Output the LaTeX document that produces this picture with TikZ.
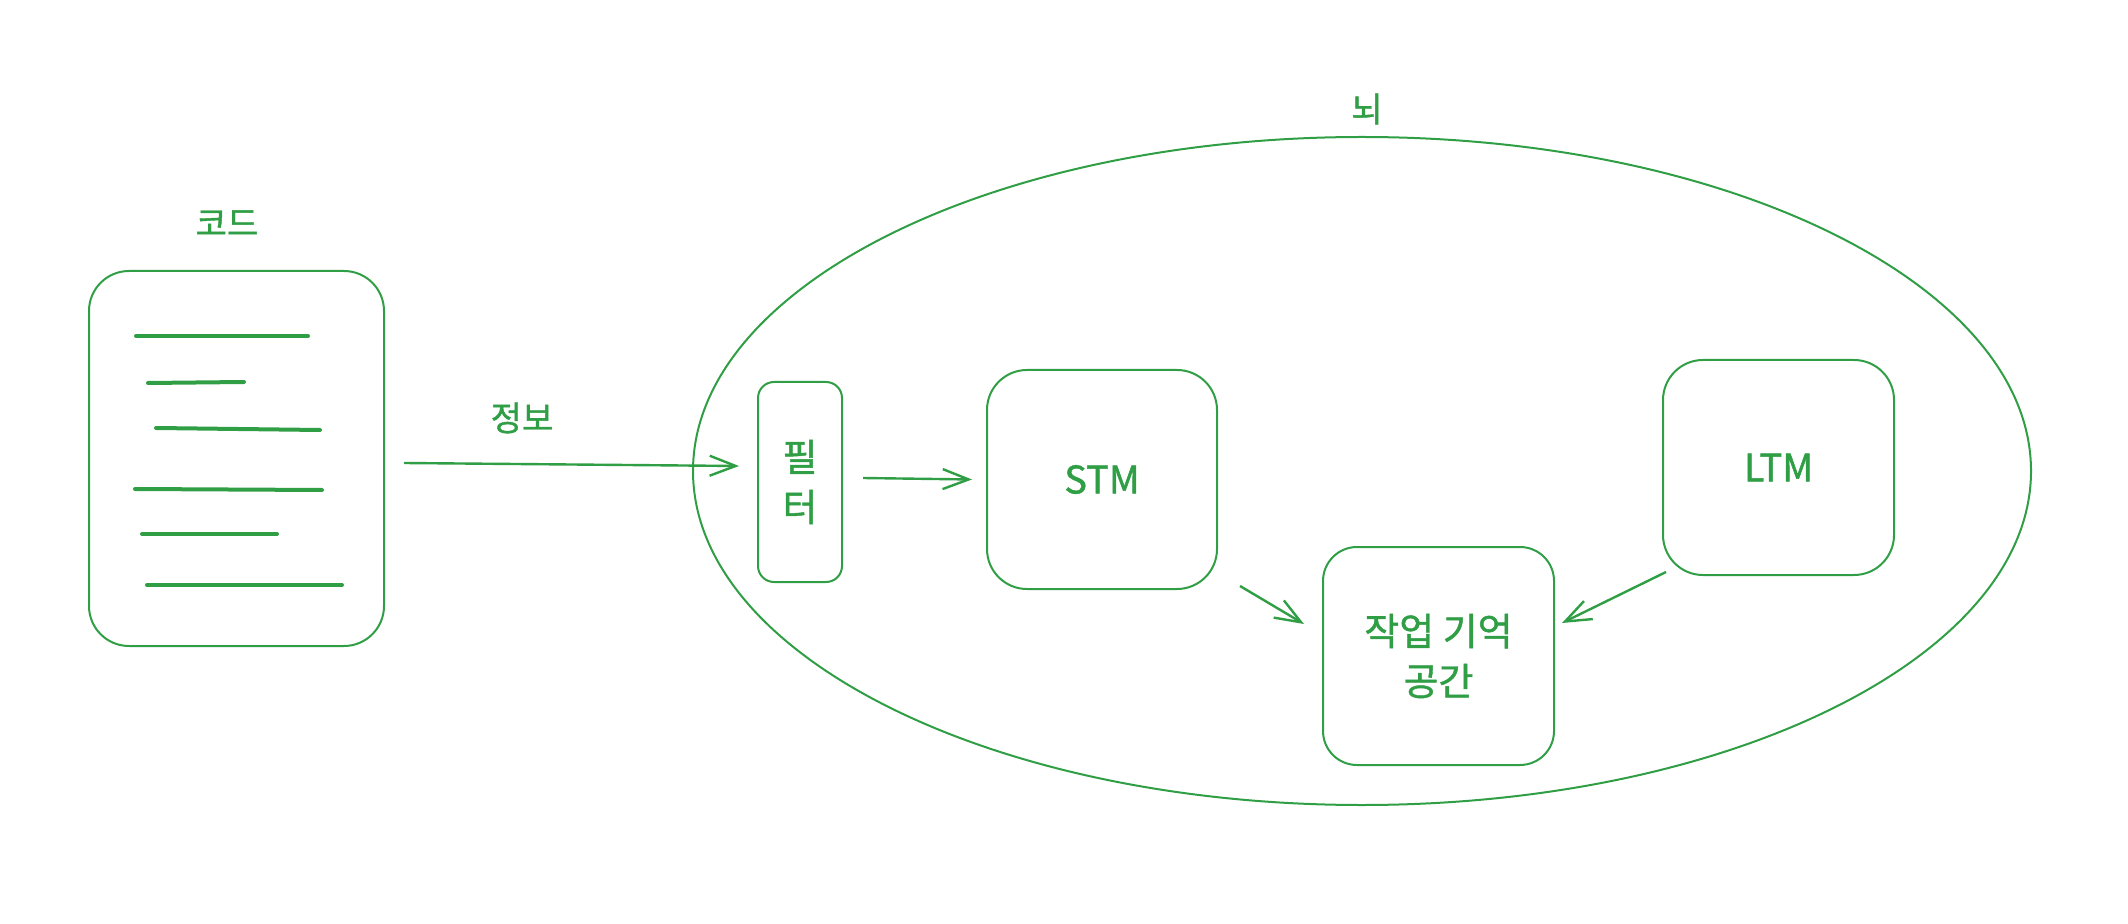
\documentclass[tikz,border=0pt]{standalone}
\usepackage{fontspec}
\setmainfont{Noto Sans CJK KR}[FakeBold=1.2]
\usetikzlibrary{arrows.meta, shapes.geometric}
\definecolor{inkgreen}{RGB}{47,158,68}
\tikzset{
	box/.style = {draw = inkgreen, line width = 1pt, inner sep = 0pt, align = center},
	arr/.style = {draw = inkgreen, line width = 1.2pt, -{Straight Barb[length = 13pt, width = 10pt, line width = 1.2pt]}},
	codeline/.style = {draw = inkgreen, line width = 2pt, line cap = round},
	lbl/.style = {text = inkgreen, font = \fontsize{17}{20}\selectfont},
	big/.style = {text = inkgreen, font = \fontsize{19}{25}\selectfont}
}
\begin{document}
\begin{tikzpicture}[x = 0.5pt, y = -0.5pt]
		\useasboundingbox (0, 0) rectangle (2128, 924);
		%%%%%%%%%%%%%
		\node [box, shape = ellipse, minimum width = 669pt, minimum height = 334pt] (brain) at (1362, 471) {};
		\node [lbl] (brainlbl) at (1367, 109) {뇌};
		\node [box, rounded corners = 20pt, minimum width = 147.5pt, minimum height = 187.5pt] (code) at (236.5, 458.5) {};
		\node [lbl] (codelbl) at (227, 223) {코드};
		\node [box, big, rounded corners = 8pt, minimum width = 42pt, minimum height = 100pt] (filter) at (800, 482) {필\\터};
		\node [box, big, rounded corners = 20pt, minimum width = 115pt, minimum height = 109.5pt] (stm) at (1102, 479.5) {STM};
		\node [box, big, rounded corners = 20pt, minimum width = 115.5pt, minimum height = 107.5pt] (ltm) at (1778.5, 467.5) {LTM};
		\node [box, big, rounded corners = 17pt, minimum width = 115.5pt, minimum height = 109pt] (work) at (1438.5, 656) {작업 기억\\공간};
		\node [lbl] (info) at (522, 418) {정보};
		%%%%%%%%%%%%%
		\draw [codeline] (136, 336) -- (308, 336);
		\draw [codeline] (148, 383) -- (244, 382);
		\draw [codeline] (156, 428) -- (320, 430);
		\draw [codeline] (135, 489) -- (322, 490);
		\draw [codeline] (142, 534) -- (277, 534);
		\draw [codeline] (147, 585) -- (342, 585);
		%%%%%%%%%%%%%
		\draw [arr] ([xshift = 9.5pt, yshift = -2.25pt]code.east) -- ([xshift = -9pt, yshift = 8pt]filter.west);
		\draw [arr] ([xshift = 10pt, yshift = 2pt]filter.east) -- ([xshift = -7pt]stm.west);
		\draw [arr] ([xshift = 11pt, yshift = 2pt]stm.south east) -- ([xshift = -9pt, yshift = 16pt]work.west);
		\draw [arr] ([xshift = 2pt, yshift = 2pt]ltm.south west) -- ([xshift = 3.5pt, yshift = 16.5pt]work.east);
\end{tikzpicture}
\end{document}
